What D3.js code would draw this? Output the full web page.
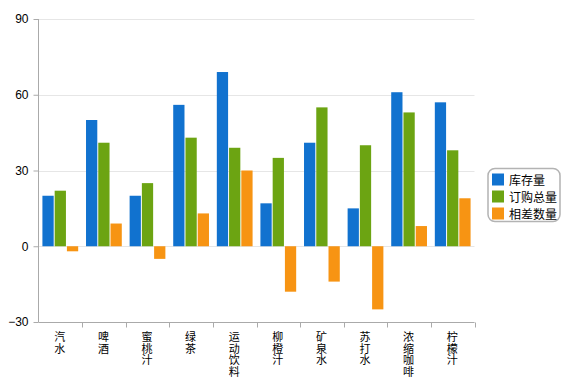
<!DOCTYPE html>
<html>
<head>
<meta charset="utf-8">
<script src="https://cdn.jsdelivr.net/npm/d3@7"></script>
<style>
  body { margin: 0; background: #fff; }
  text { font-family: "Liberation Sans", Arial, sans-serif; }
</style>
</head>
<body>
<div id="chart-area"></div>
<script>
var categories = ["汽水", "啤酒", "蜜桃汁", "绿茶", "运动饮料", "柳橙汁", "矿泉水", "苏打水", "浓缩咖啡", "柠檬汁"];
var seriesNames = ["库存量", "订购总量", "相差数量"];
var stock = [20, 50, 20, 56, 69, 17, 41, 15, 61, 57];
var ordered = [22, 41, 25, 43, 39, 35, 55, 40, 53, 38];
var diff = [-2, 9, -5, 13, 30, -18, -14, -25, 8, 19];
var yTicks = [-30, 0, 30, 60, 90];
var colors = ["#1172cf", "#6ca412", "#f79413"];

var width = 577;
var height = 391;
var plotLeft = 38.5, plotRight = 474.5, plotTop = 19, plotBottom = 322;

var svg = d3.select("#chart-area")
    .append("svg")
    .attr("width", width)
    .attr("height", height);

var x = d3.scaleBand()
    .domain(categories)
    .range([plotLeft, plotRight]);

var x1 = d3.scaleBand()
    .domain(seriesNames)
    .range([0, x.bandwidth()])
    .paddingOuter(0.32)
    .paddingInner(0.08);

var y = d3.scaleLinear()
    .domain([-30, 90])
    .range([plotBottom, plotTop]);

// grid
svg.append("g")
    .selectAll("line")
    .data(yTicks)
    .enter()
    .append("line")
    .attr("x1", plotLeft)
    .attr("x2", plotRight)
    .attr("y1", function(d) { return Math.round(y(d)) + 0.5; })
    .attr("y2", function(d) { return Math.round(y(d)) + 0.5; })
    .attr("stroke", "#e6e6e6");

// bars
var data = categories.map(function(c, i) {
    return { cat: c, values: [stock[i], ordered[i], diff[i]] };
});

var groups = svg.selectAll(".grp")
    .data(data)
    .enter()
    .append("g")
    .attr("class", "grp")
    .attr("transform", function(d) { return "translate(" + x(d.cat) + ",0)"; });

groups.selectAll("rect")
    .data(function(d) {
        return d.values.map(function(v, j) { return { name: seriesNames[j], v: v, j: j }; });
    })
    .enter()
    .append("rect")
    .attr("x", function(d) { return x1(d.name); })
    .attr("width", x1.bandwidth())
    .attr("y", function(d) { return y(Math.max(0, d.v)); })
    .attr("height", function(d) { return Math.abs(y(d.v) - y(0)); })
    .attr("fill", function(d) { return colors[d.j]; });

// y axis
var yAxis = d3.axisLeft(y)
    .tickValues(yTicks)
    .tickSize(5)
    .tickPadding(5);
var yG = svg.append("g")
    .attr("transform", "translate(" + plotLeft + ",0)")
    .call(yAxis);
yG.selectAll("line, path").attr("stroke", "#aaa");
yG.select("path").attr("d", "M0," + plotTop + "V" + plotBottom);
yG.selectAll("text")
    .attr("font-size", "12px")
    .attr("fill", "#000")
    .style("font-family", "'Liberation Sans', Arial, sans-serif");

// x axis
var xG = svg.append("g")
    .attr("transform", "translate(0," + (plotBottom + 0.5) + ")");
xG.append("line")
    .attr("x1", plotLeft)
    .attr("x2", plotRight)
    .attr("stroke", "#aaa");
xG.selectAll(".tk")
    .data(categories)
    .enter()
    .append("line")
    .attr("x1", function(d) { return Math.round(x(d) + x.bandwidth()) + 0.5; })
    .attr("x2", function(d) { return Math.round(x(d) + x.bandwidth()) + 0.5; })
    .attr("y1", 0)
    .attr("y2", 5)
    .attr("stroke", "#aaa");

// vertical category labels, one character per line
xG.selectAll(".lbl")
    .data(categories)
    .enter()
    .append("text")
    .attr("class", "lbl")
    .attr("x", function(d) { return x(d) + x.bandwidth() / 2 - 0.5; })
    .attr("y", 9)
    .attr("font-size", "11px")
    .style("font-family", "'Noto Sans CJK SC', sans-serif")
    .style("writing-mode", "vertical-rl")
    .style("text-orientation", "upright")
    .style("letter-spacing", "0.6px")
    .text(function(d) { return d; });

// legend
var lg = svg.append("g")
    .attr("transform", "translate(488,168.5)");
lg.append("rect")
    .attr("width", 72)
    .attr("height", 53)
    .attr("rx", 7)
    .attr("fill", "#fff")
    .attr("stroke", "#b3b3b3")
    .attr("stroke-width", 1.5);
var items = lg.selectAll(".item")
    .data(seriesNames)
    .enter()
    .append("g")
    .attr("transform", function(d, i) { return "translate(4," + (5 + i * 17) + ")"; });
items.append("rect")
    .attr("width", 12)
    .attr("height", 12)
    .attr("fill", function(d, i) { return colors[i]; });
items.append("text")
    .attr("x", 17)
    .attr("y", 11)
    .attr("font-size", "12px")
    .style("font-family", "'Noto Sans CJK SC', sans-serif")
    .text(function(d) { return d; });
</script>
</body>
</html>
